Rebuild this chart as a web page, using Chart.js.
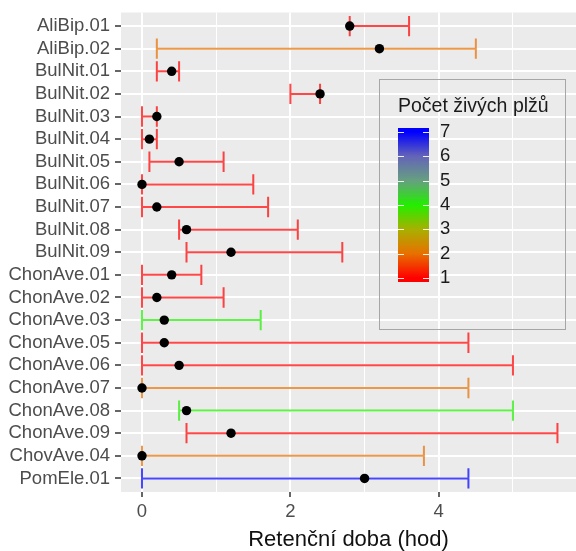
<!DOCTYPE html>
<html>
<head>
<meta charset="utf-8">
<script src="https://cdn.jsdelivr.net/npm/chart.js@4.4.0/dist/chart.umd.min.js"></script>
<style>
  body { margin: 0; background: #fff; }
  canvas { display: block; }
</style>
</head>
<body>
<canvas id="chart" width="576" height="551"></canvas>
<script>
// data
const labels = ['AliBip.01', 'AliBip.02', 'BulNit.01', 'BulNit.02', 'BulNit.03', 'BulNit.04', 'BulNit.05',
    'BulNit.06', 'BulNit.07', 'BulNit.08', 'BulNit.09', 'ChonAve.01', 'ChonAve.02', 'ChonAve.03',
    'ChonAve.05', 'ChonAve.06', 'ChonAve.07', 'ChonAve.08', 'ChonAve.09', 'ChovAve.04', 'PomEle.01']
const means = [2.8, 3.2, 0.4, 2.4, 0.2, 0.1, 0.5, 0.0, 0.2, 0.6, 1.2, 0.4, 0.2, 0.3, 0.3, 0.5, 0.0, 0.6, 1.2, 0.0, 3.0]
const lower = [2.8, 0.2, 0.2, 2.0, 0.0, 0.0, 0.1, 0.0, 0.0, 0.5, 0.6, 0.0, 0.0, 0.0, 0.0, 0.0, 0.0, 0.5, 0.6, 0.0, 0.0]
const upper = [3.6, 4.5, 0.5, 2.4, 0.2, 0.2, 1.1, 1.5, 1.7, 2.1, 2.7, 0.8, 1.1, 1.6, 4.4, 5.0, 4.4, 5.0, 5.6, 3.8, 4.4]
const counts = [1, 2, 1, 1, 1, 1, 1, 1, 1, 1, 1, 1, 1, 4, 1, 1, 2, 4, 1, 2, 7]
const xTicks = [0, 1, 2, 3, 4, 5]
const legendTicks = [1, 2, 3, 4, 5, 6, 7]
const legendColors = ['#FF0000', '#E87000', '#A8B000', '#22EE00', '#66A080', '#6464B8', '#0000FF']

const FONT = "'Liberation Sans', Arial, sans-serif"
Chart.defaults.font.family = FONT

function barColor(count) {
    let hex = legendColors[count - 1]
    let r = parseInt(hex.slice(1, 3), 16), g = parseInt(hex.slice(3, 5), 16), b = parseInt(hex.slice(5, 7), 16)
    return `rgba(${r},${g},${b},0.72)`
}

const panelBg = {
    id: 'panelBg',
    beforeDraw(chart) {
        const { ctx, chartArea: a } = chart
        ctx.save()
        ctx.fillStyle = '#EBEBEB'
        ctx.fillRect(a.left, a.top, a.right - a.left, a.bottom - a.top)
        ctx.restore()
    }
}

const errorBars = {
    id: 'errorBars',
    beforeDatasetsDraw(chart) {
        const { ctx, scales: { x, y } } = chart
        ctx.save()
        ctx.lineWidth = 2
        labels.forEach((lab, i) => {
            let x0 = x.getPixelForValue(lower[i])
            let x1 = x.getPixelForValue(upper[i])
            let yc = y.getPixelForValue(i)
            let ya = y.getPixelForValue(i - 0.45)
            let yb = y.getPixelForValue(i + 0.45)
            ctx.strokeStyle = barColor(counts[i])
            ctx.beginPath()
            ctx.moveTo(x0, yc); ctx.lineTo(x1, yc)
            ctx.moveTo(x0, ya); ctx.lineTo(x0, yb)
            ctx.moveTo(x1, ya); ctx.lineTo(x1, yb)
            ctx.stroke()
        })
        ctx.restore()
    }
}

// colour bar legend, drawn over the panel like ggplot does here
const colorBar = {
    id: 'colorBar',
    afterDraw(chart) {
        const ctx = chart.ctx
        ctx.save()
        ctx.strokeStyle = '#A6A6A6'
        ctx.lineWidth = 1
        ctx.strokeRect(379.5, 79.5, 186, 250)

        ctx.fillStyle = '#1A1A1A'
        ctx.font = `19.5px ${FONT}`
        ctx.textAlign = 'left'
        ctx.textBaseline = 'middle'
        ctx.fillText('Počet živých plžů', 398, 107)

        const vy = v => 278 - (v - 1) * (278 - 132) / 6
        let grad = ctx.createLinearGradient(0, vy(1), 0, vy(7))
        legendColors.forEach((c, i) => grad.addColorStop(i / (legendColors.length - 1), c))
        ctx.fillStyle = grad
        ctx.fillRect(398, 128, 31, 154)

        ctx.strokeStyle = 'rgba(255,255,255,0.9)'
        ctx.lineWidth = 1
        ctx.font = `18.5px ${FONT}`
        legendTicks.forEach(v => {
            let yy = Math.round(vy(v)) + 0.5
            ctx.beginPath()
            ctx.moveTo(398, yy); ctx.lineTo(404, yy)
            ctx.moveTo(423, yy); ctx.lineTo(429, yy)
            ctx.stroke()
            ctx.fillStyle = '#1A1A1A'
            ctx.fillText(String(v), 440, vy(v))
        })
        ctx.restore()
    }
}

new Chart(document.getElementById('chart'), {
    type: 'scatter',
    data: {
        datasets: [{
            data: labels.map((l, i) => ({ x: means[i], y: i })),
            backgroundColor: '#000',
            borderWidth: 0,
            pointRadius: 4.7,
            pointHoverRadius: 4.7
        }]
    },
    options: {
        responsive: false,
        animation: false,
        devicePixelRatio: 1,
        layout: { autoPadding: false, padding: { top: 12.5, right: 0, bottom: 0, left: 0 } },
        scales: {
            x: {
                type: 'linear',
                min: -0.283,
                max: 5.85,
                afterBuildTicks: s => { s.ticks = xTicks.map(v => ({ value: v })) },
                afterFit: s => { s.height = 59; s.paddingRight = 0 },
                ticks: {
                    autoSkip: false,
                    maxRotation: 0,
                    padding: 4,
                    color: '#4D4D4D',
                    font: { size: 18.5 },
                    callback: v => v % 2 === 0 ? String(v) : ''
                },
                grid: {
                    color: '#FFFFFF',
                    lineWidth: c => (c.tick && c.tick.value % 2 === 0) ? 2 : 1,
                    tickLength: 5,
                    tickWidth: 1.5,
                    tickColor: c => (c.tick && c.tick.value % 2 === 0) ? '#333333' : 'rgba(0,0,0,0)'
                },
                border: { display: false },
                title: {
                    display: true,
                    text: 'Retenční doba (hod)',
                    color: '#111111',
                    font: { size: 22, lineHeight: 1 },
                    padding: { top: 0, bottom: 0 }
                }
            },
            y: {
                type: 'linear',
                reverse: true,
                min: -0.6,
                max: 20.6,
                afterBuildTicks: s => { s.ticks = labels.map((l, i) => ({ value: i })) },
                afterFit: s => { s.width = 121; s.paddingTop = 0; s.paddingBottom = 0 },
                ticks: {
                    autoSkip: false,
                    padding: 5,
                    color: '#4D4D4D',
                    font: { size: 18.5 },
                    callback: v => labels[v]
                },
                grid: {
                    color: '#FFFFFF',
                    lineWidth: 2,
                    tickLength: 6,
                    tickWidth: 1.5,
                    tickColor: '#333333'
                },
                border: { display: false }
            }
        },
        plugins: {
            legend: { display: false },
            tooltip: { enabled: false }
        }
    },
    plugins: [panelBg, errorBars, colorBar]
})
</script>
</body>
</html>
